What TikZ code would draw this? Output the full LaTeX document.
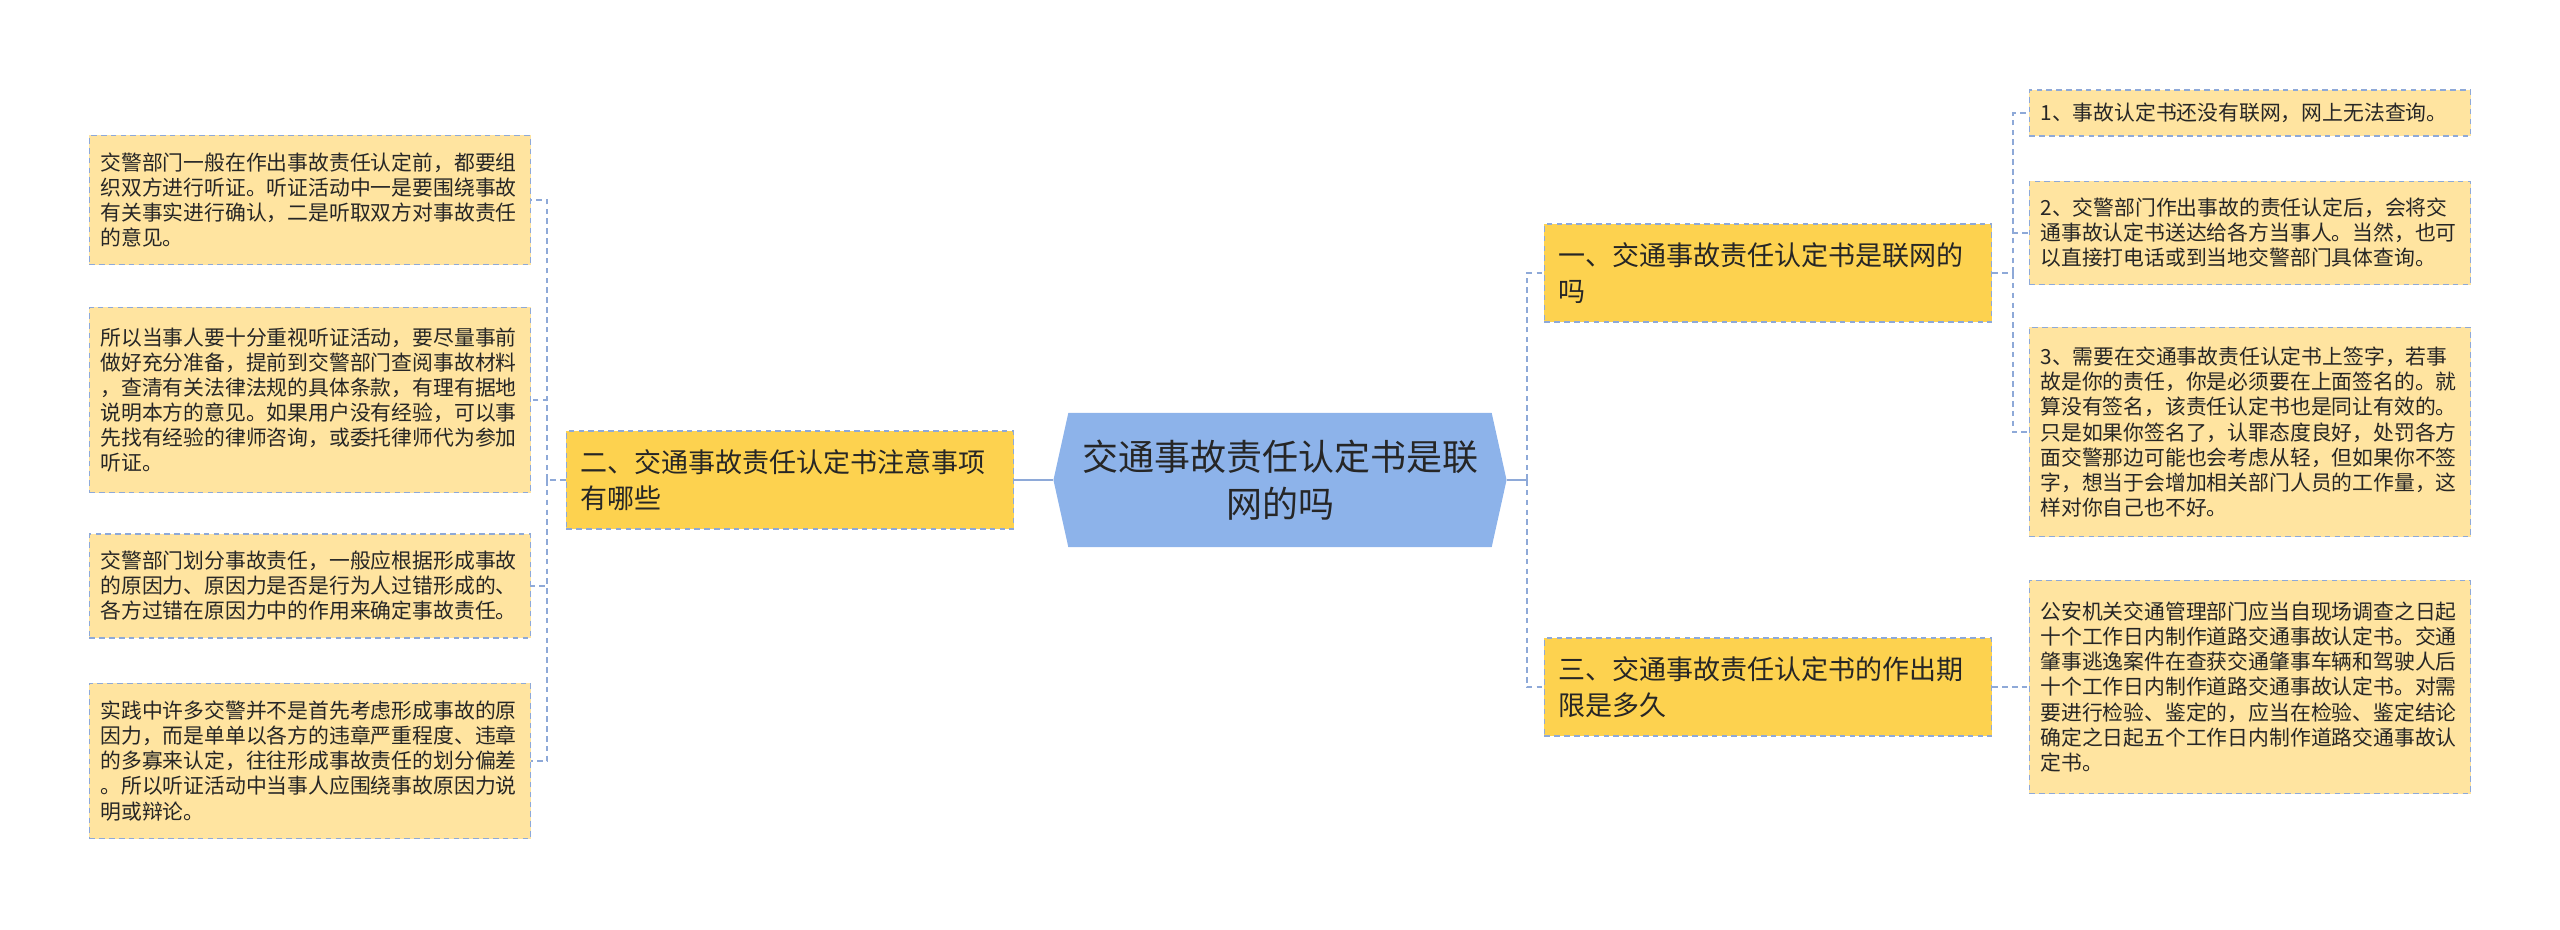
\documentclass[tikz,border=0pt]{standalone}
\usepackage{fontspec}
\newfontfamily\cjk{Noto Sans CJK SC}
\usetikzlibrary{shapes.symbols}
\definecolor{hubblue}{HTML}{8DB3EA}
\definecolor{topicgold}{HTML}{FDD24F}
\definecolor{leafcream}{HTML}{FFE4A0}
\definecolor{linkblue}{HTML}{8EA9D8}
\definecolor{inkgray}{HTML}{262626}

\begin{document}
\begin{tikzpicture}[x=0.025cm, y=-0.025cm,
    hub/.style={shape=signal, signal to=east and west, signal pointer angle=155, fill=hubblue, minimum width=11.325cm, minimum height=3.35cm, inner sep=0pt, align=center, font=\cjk\fontsize{25.6}{33.4}\selectfont, text=inkgray},
    topic/.style={draw=linkblue, dash pattern=on 4pt off 3pt, line width=0.9pt, fill=topicgold, minimum height=2.45cm, text width=10.475cm, inner xsep=0.35cm, align=left, font=\cjk\fontsize{19.2}{25.6}\selectfont, text=inkgray},
    leaf/.style={draw=linkblue, dash pattern=on 4pt off 3pt, line width=0.9pt, fill=leafcream, text width=10.475cm, inner xsep=0.275cm, align=left, font=\cjk\fontsize{14.8}{17.8}\selectfont, text=inkgray},
    link/.style={draw=linkblue, dash pattern=on 4pt off 3pt, line width=1pt},
    trunk/.style={draw=linkblue, line width=2pt}
]
\useasboundingbox (0,0) rectangle (2560,929);

% Root
\node[hub] (root) at (1280,480) {交通事故责任认定书是联\\网的吗};

% Topics
\node[topic] (topicB) at (790,480) {二、交通事故责任认定书注意事项\\有哪些};
\node[topic] (topicA) at (1768,273) {一、交通事故责任认定书是联网的\\吗};
\node[topic] (topicC) at (1768,687) {三、交通事故责任认定书的作出期\\限是多久};

% Left details
\node[leaf, minimum height=3.225cm] (leftA) at (310,200) {交警部门一般在作出事故责任认定前，都要组\\织双方进行听证。听证活动中一是要围绕事故\\有关事实进行确认，二是听取双方对事故责任\\的意见。};
\node[leaf, minimum height=4.625cm] (leftB) at (310,400) {所以当事人要十分重视听证活动，要尽量事前\\做好充分准备，提前到交警部门查阅事故材料\\，查清有关法律法规的具体条款，有理有据地\\说明本方的意见。如果用户没有经验，可以事\\先找有经验的律师咨询，或委托律师代为参加\\听证。};
\node[leaf, minimum height=2.6cm] (leftC) at (310,586) {交警部门划分事故责任，一般应根据形成事故\\的原因力、原因力是否是行为人过错形成的、\\各方过错在原因力中的作用来确定事故责任。};
\node[leaf, minimum height=3.875cm] (leftD) at (310,761) {实践中许多交警并不是首先考虑形成事故的原\\因力，而是单单以各方的违章严重程度、违章\\的多寡来认定，往往形成事故责任的划分偏差\\。所以听证活动中当事人应围绕事故原因力说\\明或辩论。};

% Right details
\node[leaf, minimum height=1.15cm] (rightA) at (2250,113) {1、事故认定书还没有联网，网上无法查询。};
\node[leaf, minimum height=2.575cm] (rightB) at (2250,233) {2、交警部门作出事故的责任认定后，会将交\\通事故认定书送达给各方当事人。当然，也可\\以直接打电话或到当地交警部门具体查询。};
\node[leaf, minimum height=5.225cm] (rightC) at (2250,432) {3、需要在交通事故责任认定书上签字，若事\\故是你的责任，你是必须要在上面签名的。就\\算没有签名，该责任认定书也是同让有效的。\\只是如果你签名了，认罪态度良好，处罚各方\\面交警那边可能也会考虑从轻，但如果你不签\\字，想当于会增加相关部门人员的工作量，这\\样对你自己也不好。};
\node[leaf, minimum height=5.325cm] (rightD) at (2250,687) {公安机关交通管理部门应当自现场调查之日起\\十个工作日内制作道路交通事故认定书。交通\\肇事逃逸案件在查获交通肇事车辆和驾驶人后\\十个工作日内制作道路交通事故认定书。对需\\要进行检验、鉴定的，应当在检验、鉴定结论\\确定之日起五个工作日内制作道路交通事故认\\定书。};

% Bus points
\coordinate (leftBus) at (547,480);
\coordinate (rootBus) at (1527,480);
\coordinate (topBus) at (2013,273);

% Root connections
\draw[trunk] (root.west) -- (topicB.east);
\draw[trunk] (root.east) -- (rootBus);
\draw[link] (rootBus) |- (topicA.west);
\draw[link] (rootBus) |- (topicC.west);

% Left branch
\draw[link] (topicB.west) -- (leftBus);
\draw[link] (leftBus) |- (leftA.east);
\draw[link] (leftBus) |- (leftB.east);
\draw[link] (leftBus) |- (leftC.east);
\draw[link] (leftBus) |- (leftD.east);

% Right branches
\draw[link] (topicA.east) -- (topBus);
\draw[link] (topBus) |- (rightA.west);
\draw[link] (topBus) |- (rightB.west);
\draw[link] (topBus) |- (rightC.west);
\draw[link] (topicC.east) -- (rightD.west);

\end{tikzpicture}
\end{document}
